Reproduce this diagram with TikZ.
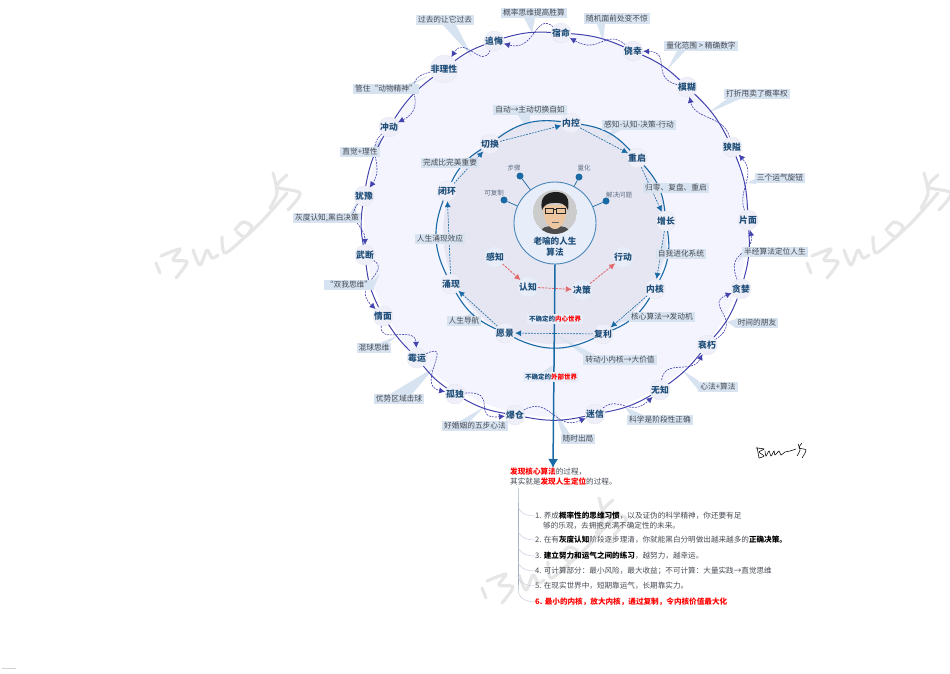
\documentclass[tikz,border=0pt]{standalone}
\usepackage{fontspec}
\setmainfont{Noto Sans CJK SC}
\usetikzlibrary{arrows.meta}

\definecolor{outerfill}{HTML}{F3F4FE}
\definecolor{innerfill}{HTML}{E5E6F2}
\definecolor{corefill}{HTML}{E8EEF9}
\definecolor{coreedge}{HTML}{4A86B8}
\definecolor{ringpurple}{HTML}{4343AE}
\definecolor{ringblue}{HTML}{1A6AA5}
\definecolor{labelblue}{HTML}{D8E3F1}
\definecolor{labelgrey}{HTML}{454A52}
\definecolor{nodefill}{HTML}{EEEFF8}
\definecolor{nodeedge}{HTML}{E2E3EE}
\definecolor{nodetext}{HTML}{1F4E79}
\definecolor{stepred}{HTML}{E26A6A}
\definecolor{treegrey}{HTML}{C6CEDD}
\definecolor{treedark}{HTML}{9FAFC6}
\definecolor{markgrey}{HTML}{E6E6E6}
\definecolor{smallgrey}{HTML}{5F6E84}

\pgfdeclarelayer{bg}
\pgfdeclarelayer{back}
\pgfsetlayers{bg,back,main}

\tikzset{
ringnode/.style={circle,fill=nodefill,draw=nodeedge,line width=0.3pt,minimum size=20pt,inner sep=0pt,text=nodetext,font=\fontsize{8.8}{10}\selectfont\bfseries},
calloutbox/.style={fill=labelblue,text=labelgrey,inner xsep=2pt,inner ysep=1.5pt,font=\fontsize{7.7}{9}\selectfont},
calltail/.style={fill=labelblue},
ringarc/.style={draw=ringpurple,line width=1pt},
ringflow/.style={draw=ringpurple,line width=0.6pt,dash pattern=on 2pt off 1pt,-{Latex[length=6pt,width=6pt]}},
innerarc/.style={draw=ringblue,line width=1.1pt},
innerflow/.style={draw=ringblue,line width=0.6pt,dash pattern=on 2pt off 1pt,-{Latex[length=6pt,width=6pt]}},
stepflow/.style={draw=stepred,line width=0.8pt,dash pattern=on 2.5pt off 1pt,-{Latex[length=6pt,width=6pt]}},
dotnode/.style={circle,fill=ringblue,minimum size=7pt,inner sep=0pt},
dotlabel/.style={text=smallgrey,inner sep=0pt,font=\fontsize{6.5}{8}\selectfont},
worldbox/.style={fill=corefill,text=nodetext,inner xsep=2pt,inner ysep=1.5pt,font=\fontsize{6.5}{8}\selectfont\bfseries},
listitem/.style={anchor=west,inner sep=0pt,text=labelgrey,font=\fontsize{7.6}{9}\selectfont},
treeline/.style={draw=treegrey,line width=0.5pt},
markline/.style={draw=markgrey,line width=3.2pt,line cap=round,line join=round},
penline/.style={draw=black,line width=0.55pt,line cap=round}
}

\newcommand{\redword}[1]{\textcolor{red}{\bfseries #1}}
\newcommand{\boldword}[1]{\textbf{\textcolor{black}{#1}}}
\newcommand{\zwdou}{\char"FF0C\relax}
\newcommand{\zwfen}{\char"FF1B\relax}
\newcommand{\zwmao}{\char"FF1A\relax}
\newcommand{\brucemark}[2]{
\begin{scope}[shift={(#1,#2)}]
\draw[markline] (156,263) -- (160,273) ;
\draw[markline] plot[smooth] coordinates {(161,256) (180,249) (173,260) (187,262) (176,278)} ;
\draw[markline] plot[smooth] coordinates {(193,250) (200,265) (207,250) (212,258) (218,255)} ;
\draw[markline] plot[smooth] coordinates {(222,237) (225,253) (245,237) (263,220) (287,193)} ;
\draw[markline] plot[smooth] coordinates {(235,230) (243,222) (252,227) (245,237) (237,232)} ;
\draw[markline] plot[smooth] coordinates {(273,173) (277,193) (270,208)} ;
\draw[markline] plot[smooth] coordinates {(287,175) (277,187) (300,193) (288,210)} ;
\end{scope}
}

\begin{document}
\begin{tikzpicture}[x=1pt,y=-1pt]
\useasboundingbox (0,0) rectangle (950,673) ;

\begin{pgfonlayer}{bg}
\brucemark{0}{0}
\brucemark{651}{0}
\brucemark{326}{325}
\fill[outerfill] (556,225) circle (192pt) ;
\fill[innerfill] (555,232) circle (112pt) ;
\node[circle,fill=corefill,draw=coreedge,line width=0.9pt,minimum size=82pt,inner sep=0pt] (core) at (555,223) {} ;
\fill[calltail] (443,25) -- (456,25) -- (473,58) -- cycle ;
\fill[calltail] (524,18) -- (535,18) -- (532,33) -- cycle ;
\fill[calltail] (597,24) -- (605,24) -- (603,42) -- cycle ;
\fill[calltail] (677,51) -- (685,51) -- (667,70) -- cycle ;
\fill[calltail] (727,99) -- (740,99) -- (708,113) -- cycle ;
\fill[calltail] (756,178) -- (756,184) -- (747,183) -- cycle ;
\fill[calltail] (743,248) -- (743,256) -- (738,262) -- cycle ;
\fill[calltail] (736,319) -- (736,328) -- (727,322) -- cycle ;
\fill[calltail] (699,381) -- (699,391) -- (682,370) -- cycle ;
\fill[calltail] (630,415) -- (643,415) -- (625,407) -- cycle ;
\fill[calltail] (562,434) -- (570,434) -- (555,412) -- cycle ;
\fill[calltail] (460,421) -- (470,421) -- (484,407) -- cycle ;
\fill[calltail] (390,394) -- (412,394) -- (435,367) -- cycle ;
\fill[calltail] (377,344) -- (387,344) -- (397,336) -- cycle ;
\fill[calltail] (373,281) -- (373,290) -- (380,273) -- cycle ;
\fill[calltail] (350,213) -- (356,213) -- (357,202) -- cycle ;
\fill[calltail] (373,147) -- (380,147) -- (382,137) -- cycle ;
\fill[calltail] (408,84) -- (414,84) -- (430,75) -- cycle ;
\fill[calltail] (517,114) -- (530,114) -- (530,132) -- cycle ;
\fill[calltail] (612,130) -- (620,130) -- (605,140) -- cycle ;
\fill[calltail] (645,184) -- (654,184) -- (648,177) -- cycle ;
\fill[calltail] (660,249) -- (668,249) -- (662,240) -- cycle ;
\fill[calltail] (630,314) -- (630,321) -- (618,322) -- cycle ;
\fill[calltail] (583,355) -- (595,355) -- (557,335) -- cycle ;
\fill[calltail] (465,316) -- (473,316) -- (475,312) -- cycle ;
\fill[calltail] (541,373) -- (551,373) -- (553,365) -- cycle ;
\end{pgfonlayer}

\node[ringnode] (suming) at (561,33) {宿命} ;
\node[ringnode] (jiaoxing) at (633,51) {侥幸} ;
\node[ringnode] (mohu) at (687,87) {模糊} ;
\node[ringnode] (xiaai) at (732,147) {狭隘} ;
\node[ringnode] (pianmian) at (748,220) {片面} ;
\node[ringnode] (tanlan) at (741,289) {贪婪} ;
\node[ringnode] (shuaixiu) at (707,345) {衰朽} ;
\node[ringnode] (wuzhi) at (660,390) {无知} ;
\node[ringnode] (mixin) at (595,414) {迷信} ;
\node[ringnode] (baocang) at (515,415) {爆仓} ;
\node[ringnode] (gudu) at (455,394) {孤独} ;
\node[ringnode] (meiyun) at (417,358) {霉运} ;
\node[ringnode] (qingmian) at (383,316) {情面} ;
\node[ringnode] (wuduan) at (365,255) {武断} ;
\node[ringnode] (youyu) at (364,196) {犹豫} ;
\node[ringnode] (chongdong) at (389,127) {冲动} ;
\node[ringnode,minimum size=27pt] (feilixing) at (444,69) {非理性} ;
\node[ringnode] (zhuihui) at (494,41) {追悔} ;

\node[ringnode] (neikong) at (571,123) {内控} ;
\node[ringnode] (chongqi) at (637,158) {重启} ;
\node[ringnode] (zengzhang) at (666,221) {增长} ;
\node[ringnode] (neihe) at (655,289) {内核} ;
\node[ringnode] (fuli) at (603,334) {复利} ;
\node[ringnode] (yuanjing) at (505,333) {愿景} ;
\node[ringnode] (yongxian) at (451,284) {涌现} ;
\node[ringnode] (bihuan) at (447,191) {闭环} ;
\node[ringnode] (qiehuan) at (490,144) {切换} ;

\node[ringnode,draw=none,fill=corefill] (ganzhi) at (495,257) {感知} ;
\node[ringnode,draw=none,fill=corefill] (renzhi) at (528,287) {认知} ;
\node[ringnode,draw=none,fill=corefill] (juece) at (582,290) {决策} ;
\node[ringnode,draw=none,fill=corefill] (xingdong) at (623,257) {行动} ;

\node[dotnode] (dotbuzhou) at (520,176) {} ;
\node[dotnode] (dotfuzhi) at (504,200) {} ;
\node[dotnode] (dotlianghua) at (579,177) {} ;
\node[dotnode] (dotjiejue) at (606,201) {} ;
\node[dotlabel] (buzhou) at (514,168) {步骤} ;
\node[dotlabel] (fuzhi) at (494,193) {可复制} ;
\node[dotlabel] (lianghua) at (584,168) {量化} ;
\node[dotlabel] (jiejue) at (619,195) {解决问题} ;

\node[inner sep=0pt,text=nodetext,align=center,font=\fontsize{8.6}{11.2}\selectfont\bfseries] (coretitle) at (555,246.5) {老喻的人生\\算法} ;

\node[calloutbox] (guoqu) at (445,20) {过去的让它过去} ;
\node[calloutbox] (gailv) at (534,13) {概率思维提高胜算} ;
\node[calloutbox] (suiji) at (617,18.5) {随机面前处变不惊} ;
\node[calloutbox] (fanwei) at (701,46) {量化范围 > 精确数字} ;
\node[calloutbox] (dazhe) at (757,94) {打折甩卖了概率权} ;
\node[calloutbox] (sange) at (780,178) {三个运气旋钮} ;
\node[calloutbox] (banjing) at (775,252) {半经算法定位人生} ;
\node[calloutbox] (shijian) at (757,323) {时间的朋友} ;
\node[calloutbox] (xinfa) at (718,387) {心法+算法} ;
\node[calloutbox] (kexue) at (660,420) {科学是阶段性正确} ;
\node[calloutbox] (suishi) at (578,439) {随时出局} ;
\node[calloutbox] (hunyin) at (475,426) {好婚姻的五步心法} ;
\node[calloutbox] (youshi) at (399,399) {优势区域击球} ;
\node[calloutbox] (hunqiu) at (374,348) {混球思维} ;
\node[calloutbox] (shuangwo) at (349,285) {“双我思维”} ;
\node[calloutbox] (huidu) at (327,218) {灰度认知,黑白决策} ;
\node[calloutbox] (zhijue) at (360,152) {直觉+理性} ;
\node[calloutbox] (guanzhu) at (386,89) {管住“动物精神”} ;

\node[calloutbox] (zidong) at (530,110) {自动→主动切换自如} ;
\node[calloutbox] (sibu) at (639,125) {感知-认知-决策-行动} ;
\node[calloutbox] (guiling) at (676,188) {归零、复盘、重启} ;
\node[calloutbox] (jinhua) at (681,254) {自我进化系统} ;
\node[calloutbox] (hexin) at (662,317) {核心算法→发动机} ;
\node[calloutbox] (zhuandong) at (620,360) {转动小内核→大价值} ;
\node[calloutbox] (daohang) at (464,321) {人生导航} ;
\node[calloutbox] (xiaoying) at (440,239) {人生涌现效应} ;
\node[calloutbox] (wancheng) at (450,163) {完成比完美重要} ;

\node[worldbox] (neixin) at (555,319) {不确定的\textcolor{red}{内心世界}} ;
\node[worldbox] (waibu) at (551,377) {不确定的\textcolor{red}{外部世界}} ;

\coordinate (axisend) at (553,468) ;

\begin{pgfonlayer}{back}
\draw[ringarc] (suming) to[bend left=10] (jiaoxing) ;
\draw[ringarc] (jiaoxing) to[bend left=10] (mohu) ;
\draw[ringarc] (mohu) to[bend left=10] (xiaai) ;
\draw[ringarc] (xiaai) to[bend left=10] (pianmian) ;
\draw[ringarc] (pianmian) to[bend left=10] (tanlan) ;
\draw[ringarc] (tanlan) to[bend left=10] (shuaixiu) ;
\draw[ringarc] (shuaixiu) to[bend left=8] (wuzhi) ;
\draw[ringarc] (wuzhi) to[bend left=10] (mixin) ;
\draw[ringarc] (mixin) to[bend left=12] (baocang) ;
\draw[ringarc] (baocang) to[bend left=10] (gudu) ;
\draw[ringarc] (gudu) to[bend left=8] (meiyun) ;
\draw[ringarc] (meiyun) to[bend left=6] (qingmian) ;
\draw[ringarc] (qingmian) to[bend left=10] (wuduan) ;
\draw[ringarc] (wuduan) to[bend left=9] (youyu) ;
\draw[ringarc] (youyu) to[bend left=10] (chongdong) ;
\draw[ringarc] (chongdong) to[bend left=10] (feilixing) ;
\draw[ringarc] (feilixing) to[bend left=8] (zhuihui) ;
\draw[ringarc] (zhuihui) to[bend left=10] (suming) ;

\draw[ringflow] (pianmian) .. controls (737,190) and (757,175) .. (xiaai) ;
\draw[ringflow] (xiaai) .. controls (724,115) and (695,120) .. (mohu) ;
\draw[ringflow] (mohu) .. controls (650,78) and (672,52) .. (jiaoxing) ;
\draw[ringflow] (jiaoxing) .. controls (605,28) and (600,55) .. (suming) ;
\draw[ringflow] (suming) .. controls (535,12) and (535,52) .. (zhuihui) ;
\draw[ringflow] (zhuihui) .. controls (482,70) and (465,35) .. (feilixing) ;
\draw[ringflow] (feilixing) .. controls (395,80) and (432,105) .. (chongdong) ;
\draw[ringflow] (chongdong) .. controls (365,150) and (385,165) .. (youyu) ;
\draw[ringflow] (youyu) .. controls (345,220) and (365,225) .. (wuduan) ;
\draw[ringflow] (wuduan) .. controls (392,272) and (350,285) .. (qingmian) ;
\draw[ringflow] (qingmian) .. controls (378,345) and (415,325) .. (meiyun) ;
\draw[ringflow] (meiyun) .. controls (455,340) and (415,385) .. (gudu) ;
\draw[ringflow] (gudu) .. controls (500,390) and (470,420) .. (baocang) ;
\draw[ringflow] (baocang) .. controls (550,395) and (555,432) .. (mixin) ;
\draw[ringflow] (mixin) .. controls (620,395) and (630,418) .. (wuzhi) ;
\draw[ringflow] (wuzhi) .. controls (665,358) and (692,375) .. (shuaixiu) ;
\draw[ringflow] (shuaixiu) .. controls (745,320) and (703,305) .. (tanlan) ;
\draw[ringflow] (tanlan) .. controls (725,250) and (755,255) .. (pianmian) ;

\draw[innerarc] (neikong) to[bend left=20] (chongqi) ;
\draw[innerarc] (chongqi) to[bend left=18] (zengzhang) ;
\draw[innerarc] (zengzhang) to[bend left=18] (neihe) ;
\draw[innerarc] (neihe) to[bend left=18] (fuli) ;
\draw[innerarc] (fuli) to[bend left=26] (yuanjing) ;
\draw[innerarc] (yuanjing) to[bend left=18] (yongxian) ;
\draw[innerarc] (yongxian) to[bend left=24] (bihuan) ;
\draw[innerarc] (bihuan) to[bend left=16] (qiehuan) ;
\draw[innerarc] (qiehuan) to[bend left=22] (neikong) ;

\draw[innerflow] (neikong) -- (chongqi) ;
\draw[innerflow] (chongqi) -- (zengzhang) ;
\draw[innerflow] (zengzhang) -- (neihe) ;
\draw[innerflow] (neihe) -- (fuli) ;
\draw[innerflow] (fuli) -- (yuanjing) ;
\draw[innerflow] (yuanjing) -- (yongxian) ;
\draw[innerflow] (yongxian) -- (bihuan) ;
\draw[innerflow] (bihuan) -- (qiehuan) ;
\draw[innerflow] (qiehuan) -- (neikong) ;

\draw[stepflow] (ganzhi) -- (renzhi) ;
\draw[stepflow] (renzhi) -- (juece) ;
\draw[stepflow] (juece) -- (xingdong) ;

\draw[ringblue,line width=0.7pt] (core) -- (dotbuzhou) ;
\draw[ringblue,line width=0.7pt] (core) -- (dotfuzhi) ;
\draw[ringblue,line width=0.7pt] (core) -- (dotlianghua) ;
\draw[ringblue,line width=0.7pt] (core) -- (dotjiejue) ;

\draw[ringblue,line width=1.5pt,-{Latex[length=9pt,width=10pt]}] (core.south) -- (axisend) ;

\begin{scope}
\clip (555,212) circle (22pt) ;
\fill[black!20] (533,190) rectangle (577,234) ;
\fill[black!70] (538,236) .. controls (540,226) and (548,226) .. (555,226) .. controls (562,226) and (570,226) .. (572,236) -- cycle ;
\fill[orange!30!brown!45!white] (543,205) .. controls (543,222) and (550,229) .. (555,229) .. controls (560,229) and (567,222) .. (567,205) -- cycle ;
\fill[black!88] (542,210) .. controls (539,196) and (548,192) .. (556,192) .. controls (566,192) and (570,198) .. (568,210) .. controls (566,204) and (560,202) .. (553,203) .. controls (548,203) and (544,205) .. (542,210) -- cycle ;
\draw[black!85,line width=0.7pt] (545,208) rectangle (553.5,213) ;
\draw[black!85,line width=0.7pt] (556.5,208) rectangle (565,213) ;
\draw[black!85,line width=0.6pt] (553.5,209) -- (556.5,209) ;
\draw[black!60,line width=0.5pt] (551.5,222) -- (558.5,222) ;
\end{scope}

\coordinate (treetop) at (518,488) ;
\draw[treeline] (treetop) -- (518,590) ;
\draw[treedark,line width=0.7pt] (518,503) -- (518,585) ;
\end{pgfonlayer}

\node[listitem] (itemone) at (535,516) {1. 养成\boldword{概率性的思维习惯}\zwdou 以及证伪的科学精神\zwdou 你还要有足} ;
\node[listitem] (itemoneb) at (543,526) {够的乐观\zwdou 去拥抱充满不确定性的未来。} ;
\node[listitem] (itemtwo) at (535,540) {2. 在有\boldword{灰度认知}阶段逐步理清\zwdou 你就能黑白分明做出越来越多的\boldword{正确决策。}} ;
\node[listitem] (itemthree) at (535,556) {3. \boldword{建立努力和运气之间的练习}\zwdou 越努力\zwdou 越幸运。} ;
\node[listitem] (itemfour) at (535,571) {4. 可计算部分\zwmao 最小风险\zwdou 最大收益\zwfen 不可计算\zwmao 大量实践→直觉思维} ;
\node[listitem] (itemfive) at (535,586) {5. 在现实世界中\zwdou 短期靠运气\zwdou 长期靠实力。} ;
\node[listitem,text=red,font=\fontsize{7.6}{9}\selectfont\bfseries] (itemsix) at (535,602) {6. 最小的内核\zwdou 放大内核\zwdou 通过复制\zwdou 令内核价值最大化} ;

\begin{pgfonlayer}{back}
\draw[treeline] (518,505) .. controls (518,511) and (524,516) .. (itemone.west) ;
\draw[treeline] (518,530) .. controls (518,535) and (524,540) .. (itemtwo.west) ;
\draw[treeline] (518,546) .. controls (518,551) and (524,556) .. (itemthree.west) ;
\draw[treeline] (518,561) .. controls (518,566) and (524,571) .. (itemfour.west) ;
\draw[treeline] (518,576) .. controls (518,581) and (524,586) .. (itemfive.west) ;
\draw[treeline] (518,590) .. controls (518,596) and (524,602) .. (itemsix.west) ;

\draw[penline] (757,447) -- (759,458) ;
\draw[penline] plot[smooth] coordinates {(756,448) (764,449) (759,452) (764,456) (759,458)} ;
\draw[penline] plot[smooth] coordinates {(765,451) (766,456) (769,451) (771,456) (774,451) (775,455) (779,451) (781,455) (785,452) (790,451) (796,449)} ;
\draw[penline] plot[smooth] coordinates {(798,444) (800,450) (797,456)} ;
\draw[penline] plot[smooth] coordinates {(802,443) (799,448) (806,450) (802,458)} ;
\draw[black!18,line width=0.9pt] (2,668) -- (16,668) ;
\end{pgfonlayer}

\node[anchor=west,inner sep=0pt,text=labelgrey,font=\fontsize{7.6}{9}\selectfont] (procone) at (510,472) {\redword{发现核心算法}的过程\zwdou} ;
\node[anchor=west,inner sep=0pt,text=labelgrey,font=\fontsize{7.6}{9}\selectfont] (proctwo) at (510,482) {其实就是\redword{发现人生定位}的过程。} ;
\end{tikzpicture}
\end{document}
